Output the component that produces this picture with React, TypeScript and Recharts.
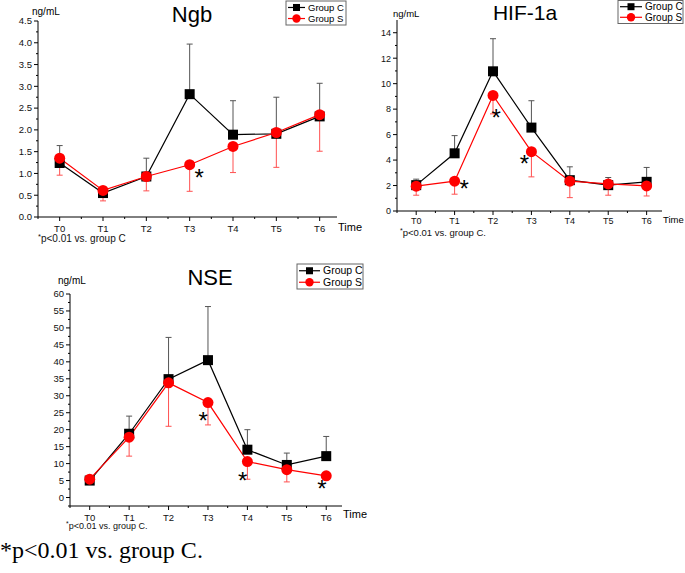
import React from 'react';
import { ComposedChart, Line, XAxis, YAxis, ErrorBar, Scatter } from 'recharts';

// time points on the x axis
const timePoints = ['T0', 'T1', 'T2', 'T3', 'T4', 'T5', 'T6'];

// Ngb (ng/mL)
const ngbGroupC = [1.24, 0.55, 0.93, 2.82, 1.89, 1.91, 2.31];
const ngbGroupCUpper = [1.64, 0.7, 1.35, 3.97, 2.67, 2.75, 3.07];
const ngbGroupS = [1.35, 0.61, 0.93, 1.2, 1.62, 1.94, 2.35];
const ngbGroupSLower = [0.96, 0.37, 0.6, 0.59, 1.02, 1.14, 1.51];
const ngbYTicks = [0, 0.5, 1, 1.5, 2, 2.5, 3, 3.5, 4, 4.5];
const ngbStars = [{ x: 3.22, y: 1.03 }];

// HIF-1a (ng/mL)
const hifGroupC = [2.03, 4.53, 10.97, 6.55, 2.42, 2.03, 2.29];
const hifGroupCUpper = [2.5, 5.92, 13.53, 8.66, 3.47, 2.63, 3.42];
const hifGroupS = [1.95, 2.34, 9.08, 4.66, 2.34, 2.13, 1.97];
const hifGroupSLower = [1.24, 1.32, 7.63, 2.68, 1.05, 1.24, 1.18];
const hifYTicks = [0, 2, 4, 6, 8, 10, 12, 14];
const hifStars = [
  { x: 1.25, y: 2.2 },
  { x: 2.08, y: 7.8 },
  { x: 2.82, y: 4.15 },
];

// NSE (ng/mL)
const nseGroupC = [5.0, 18.8, 34.9, 40.5, 14.1, 9.6, 12.2];
const nseGroupCUpper = [5.8, 24.0, 47.2, 56.3, 20.0, 13.1, 18.0];
const nseGroupS = [5.4, 17.8, 33.8, 28.0, 10.6, 8.2, 6.4];
const nseGroupSLower = [4.6, 12.2, 21.0, 21.4, 5.4, 4.6, 5.5];
const nseYTicks = [0, 5, 10, 15, 20, 25, 30, 35, 40, 45, 50, 55, 60];
const nseStars = [
  { x: 2.88, y: 24.4 },
  { x: 3.88, y: 6.5 },
  { x: 5.89, y: 4.2 },
];

const FONT = '"Liberation Sans", Arial, sans-serif';
const RED = '#ff0000';

function buildRows(c: number[], cUp: number[], s: number[], sLow: number[]) {
  return timePoints.map((t, i) => ({
    x: i,
    name: t,
    c: c[i],
    s: s[i],
    cErr: [0, +(cUp[i] - c[i]).toFixed(3)],
    sErr: [+(s[i] - sLow[i]).toFixed(3), 0],
  }));
}

// majors plus a minor tick halfway between them
function withMinors(majors: number[], min: number) {
  const step = majors[1] - majors[0];
  const out: number[] = [];
  if (majors[0] - step / 2 >= min) out.push(majors[0] - step / 2);
  majors.forEach((m, i) => {
    out.push(m);
    if (i < majors.length - 1) out.push(m + step / 2);
  });
  return out;
}

const xTicks = withMinors([0, 1, 2, 3, 4, 5, 6], -0.5);

const SquareDot = (p: any) => (
  <rect key={`sq-${p.index}`} x={p.cx - 5} y={p.cy - 5} width={10} height={10} fill="#000" />
);
const CircleDot = (p: any) => (
  <circle key={`ci-${p.index}`} cx={p.cx} cy={p.cy} r={5.5} fill={RED} />
);
const StarShape = (p: any) => (
  <text x={p.cx} y={p.cy + 14} textAnchor="middle" fontSize={24} fontFamily={FONT} fill="#000">
    *
  </text>
);

interface PanelProps {
  left: number;
  top: number;
  width: number;
  height: number;
  margin: { top: number; right: number; left: number; bottom: number };
  yWidth: number;
  xHeight: number;
  yDomain: [number, number];
  yMajors: number[];
  decimals: number;
  tickFs: number;
  labelDy: number;
  rows: any[];
  stars: { x: number; y: number }[];
}

function Panel(props: PanelProps) {
  const { yMajors, decimals, tickFs, labelDy } = props;
  const yTicks = withMinors(yMajors, props.yDomain[0]);

  const YTick = (p: any) => {
    const v = p.payload.value;
    const major = yMajors.includes(v);
    return (
      <g>
        <line x1={p.x - (major ? 4 : 2)} x2={p.x} y1={p.y} y2={p.y} stroke="#000" />
        {major && (
          <text x={p.x - 6} y={p.y + 3.3} textAnchor="end" fontSize={tickFs} fontFamily={FONT} fill="#111">
            {v.toFixed(decimals)}
          </text>
        )}
      </g>
    );
  };

  const XTick = (p: any) => {
    const v = p.payload.value;
    const major = Number.isInteger(v);
    return (
      <g>
        <line x1={p.x} x2={p.x} y1={p.y} y2={p.y + (major ? 4 : 2)} stroke="#000" />
        {major && (
          <text x={p.x} y={p.y + labelDy} textAnchor="middle" fontSize={tickFs} fontFamily={FONT} fill="#111">
            {timePoints[v]}
          </text>
        )}
      </g>
    );
  };

  return (
    <div style={{ position: 'absolute', left: props.left, top: props.top }}>
      <ComposedChart width={props.width} height={props.height} data={props.rows} margin={props.margin}>
        <XAxis
          dataKey="x"
          type="number"
          domain={[-0.5, 6.4]}
          allowDataOverflow
          ticks={xTicks}
          interval={0}
          tickSize={0}
          tickMargin={0}
          tickLine={false}
          tick={XTick}
          height={props.xHeight}
          stroke="#000"
        />
        <YAxis
          type="number"
          domain={props.yDomain}
          allowDataOverflow
          ticks={yTicks}
          interval={0}
          tickSize={0}
          tickMargin={0}
          tickLine={false}
          tick={YTick}
          width={props.yWidth}
          stroke="#000"
        />
        <Line
          dataKey="c"
          type="linear"
          stroke="#000"
          strokeWidth={1.2}
          dot={SquareDot}
          activeDot={false}
          isAnimationActive={false}
        >
          <ErrorBar dataKey="cErr" direction="y" width={3} stroke="#555" strokeWidth={1} />
        </Line>
        <Line
          dataKey="s"
          type="linear"
          stroke={RED}
          strokeWidth={1.2}
          dot={CircleDot}
          activeDot={false}
          isAnimationActive={false}
        >
          <ErrorBar dataKey="sErr" direction="y" width={3} stroke="#ff5050" strokeWidth={1} />
        </Line>
        <Scatter data={props.stars} dataKey="y" shape={StarShape} isAnimationActive={false} />
      </ComposedChart>
    </div>
  );
}

function LegendBox({ x, y, w, h, fs, tx }: { x: number; y: number; w: number; h: number; fs: number; tx: number }) {
  const r1 = y + h * 0.27;
  const r2 = y + h * 0.73;
  const lineEnd = tx - 3;
  const mid = x + (lineEnd - x + 2) / 2;
  return (
    <g>
      <rect x={x} y={y} width={w} height={h} fill="#fff" stroke="#666" strokeWidth={1} />
      <line x1={x + 2} x2={lineEnd} y1={r1} y2={r1} stroke="#000" strokeWidth={1.2} />
      <rect x={mid - 3.5} y={r1 - 3.5} width={7} height={7} fill="#000" />
      <text x={tx} y={r1 + 3.6} fontSize={fs} fontFamily={FONT}>Group C</text>
      <line x1={x + 2} x2={lineEnd} y1={r2} y2={r2} stroke={RED} strokeWidth={1.2} />
      <circle cx={mid} cy={r2} r={4.2} fill={RED} />
      <text x={tx} y={r2 + 3.6} fontSize={fs} fontFamily={FONT}>Group S</text>
    </g>
  );
}

function Note({ x, y, text, fs }: { x: number; y: number; text: string; fs: number }) {
  return (
    <text x={x} y={y} fontSize={fs} fontFamily={FONT} fill="#111">
      <tspan fontSize={fs * 0.75} dy={-3}>*</tspan>
      <tspan dy={3}>{text}</tspan>
    </text>
  );
}

export default function App() {
  const ngbRows = buildRows(ngbGroupC, ngbGroupCUpper, ngbGroupS, ngbGroupSLower);
  const hifRows = buildRows(hifGroupC, hifGroupCUpper, hifGroupS, hifGroupSLower);
  const nseRows = buildRows(nseGroupC, nseGroupCUpper, nseGroupS, nseGroupSLower);

  return (
    <div style={{ position: 'absolute', left: 0, top: 0, width: 685, height: 573, background: '#fff' }}>
      <Panel
        left={0}
        top={0}
        width={346}
        height={240}
        margin={{ top: 21, right: 9, left: 0, bottom: 0 }}
        yWidth={38}
        xHeight={23}
        yDomain={[0, 4.5]}
        yMajors={ngbYTicks}
        decimals={1}
        tickFs={9.5}
        labelDy={14.5}
        rows={ngbRows}
        stars={ngbStars}
      />
      <Panel
        left={360}
        top={0}
        width={325}
        height={230}
        margin={{ top: 20, right: 23, left: 0, bottom: 0 }}
        yWidth={37}
        xHeight={19}
        yDomain={[0, 15]}
        yMajors={hifYTicks}
        decimals={0}
        tickFs={9}
        labelDy={13.3}
        rows={hifRows}
        stars={hifStars}
      />
      <Panel
        left={30}
        top={250}
        width={320}
        height={280}
        margin={{ top: 44, right: 8, left: 0, bottom: 0 }}
        yWidth={40}
        xHeight={24}
        yDomain={[-2.5, 60]}
        yMajors={nseYTicks}
        decimals={0}
        tickFs={9.5}
        labelDy={14.5}
        rows={nseRows}
        stars={nseStars}
      />
      <svg
        width={685}
        height={573}
        style={{ position: 'absolute', left: 0, top: 0, pointerEvents: 'none' }}
      >
        {/* titles */}
        <text x={192} y={22} textAnchor="middle" fontSize={22} fontFamily={FONT}>Ngb</text>
        <text x={525} y={20} textAnchor="middle" fontSize={21} fontFamily={FONT}>HIF-1a</text>
        <text x={210} y={285} textAnchor="middle" fontSize={22} fontFamily={FONT}>NSE</text>

        {/* units */}
        <text x={32} y={15} fontSize={10} fontFamily={FONT}>ng/mL</text>
        <text x={393} y={17} fontSize={9.5} fontFamily={FONT}>ng/mL</text>
        <text x={58} y={284} fontSize={10} fontFamily={FONT}>ng/mL</text>

        {/* axis titles */}
        <text x={338} y={231} fontSize={11} fontFamily={FONT}>Time</text>
        <text x={663} y={223} fontSize={9.5} fontFamily={FONT}>Time</text>
        <text x={343} y={518} fontSize={11} fontFamily={FONT}>Time</text>

        {/* footnotes */}
        <Note x={38} y={242} text="p<0.01 vs. group C" fs={10} />
        <Note x={400} y={235.5} text="p<0.01 vs. group C." fs={9.5} />
        <Note x={66} y={529} text="p<0.01 vs. group C." fs={9} />

        {/* legends */}
        <LegendBox x={286} y={1} w={60} h={24} fs={9.5} tx={308} />
        <LegendBox x={618} y={0.5} w={65} h={23} fs={10} tx={645} />
        <LegendBox x={297} y={264} w={66} h={25} fs={10.5} tx={323} />

        <text x={0} y={558} fontSize={24} fontFamily='"Liberation Serif", "Times New Roman", serif'>
          *p&lt;0.01 vs. group C.
        </text>
      </svg>
    </div>
  );
}
